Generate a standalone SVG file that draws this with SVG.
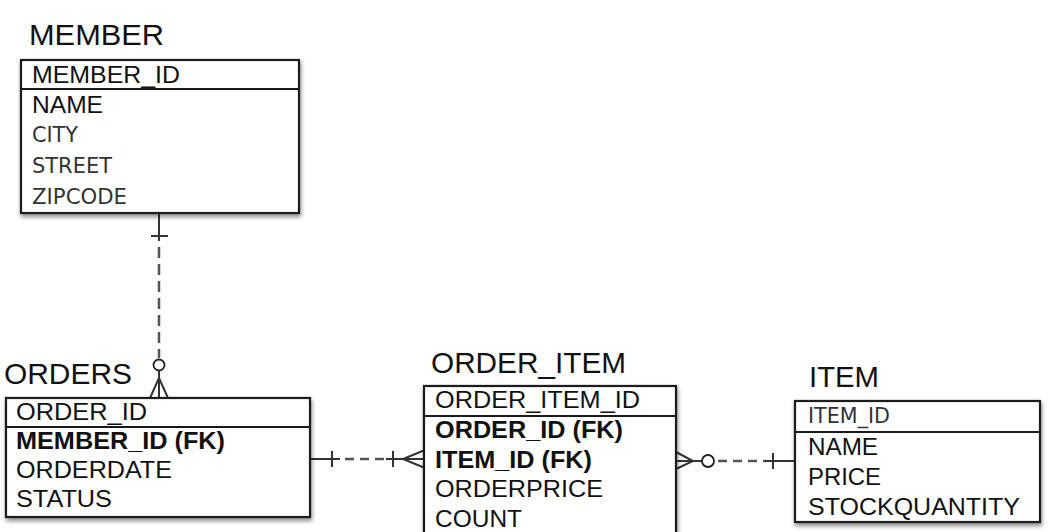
<svg xmlns="http://www.w3.org/2000/svg" width="1049" height="532" viewBox="0 0 1049 532">
<defs>
<filter id="sh" x="-5%" y="-5%" width="115%" height="125%">
<feDropShadow dx="1" dy="3" stdDeviation="2" flood-color="#000" flood-opacity="0.45"/>
</filter>
<style>
.box{fill:#fff;stroke:#1a1a1a;stroke-width:2.2;filter:url(#sh)}
.div{stroke:#1a1a1a;stroke-width:2.2}
.title{font-family:"Liberation Sans",Arial,sans-serif;font-size:29px;fill:#111}
.t{font-family:"Liberation Sans",Arial,sans-serif;font-size:24px;fill:#111}
.b{font-family:"Liberation Sans",Arial,sans-serif;font-size:24px;font-weight:bold;fill:#111}
.g{font-family:"DejaVu Sans",sans-serif;font-size:22px;fill:#333}
.sol{stroke:#333;stroke-width:2;fill:none}
.dash{stroke:#555;stroke-width:2.5;fill:none}
.circ{stroke:#222;stroke-width:1.8;fill:#fff}
</style>
</defs>
<rect width="1049" height="532" fill="#fff"/>

<g id="connectors">
<!-- MEMBER - ORDERS -->
<line class="sol" x1="159" y1="213" x2="159" y2="241"/>
<line class="sol" x1="151" y1="236" x2="168" y2="236"/>
<line class="dash" x1="159" y1="247" x2="159" y2="358" stroke-dasharray="11 6"/>
<circle class="circ" cx="159" cy="365" r="5.5"/>
<line class="sol" x1="159" y1="371" x2="159" y2="398"/>
<path class="sol" d="M150,398 L159,378 L168,398"/>
<!-- ORDERS - ORDER_ITEM -->
<line class="sol" x1="310" y1="459" x2="340" y2="459"/>
<line class="sol" x1="332" y1="451" x2="332" y2="467"/>
<line class="dash" x1="345" y1="459" x2="388" y2="459" stroke-dasharray="9 6"/>
<line class="sol" x1="386" y1="459" x2="425" y2="459"/>
<line class="sol" x1="393" y1="451" x2="393" y2="467"/>
<path class="sol" d="M425,450 L403,459 L425,468"/>
<!-- ORDER_ITEM - ITEM -->
<line class="sol" x1="676" y1="461" x2="702" y2="461"/>
<path class="sol" d="M676,452 L693,461 L676,469"/>
<circle class="circ" cx="708" cy="461" r="6"/>
<line class="dash" x1="718" y1="461" x2="766" y2="461" stroke-dasharray="9 6"/>
<line class="sol" x1="765" y1="461" x2="795" y2="461"/>
<line class="sol" x1="773" y1="453" x2="773" y2="469"/>
</g>

<g id="member">
<text class="title" x="29" y="45" textLength="135" lengthAdjust="spacingAndGlyphs">MEMBER</text>
<rect class="box" x="21" y="60" width="278" height="153"/>
<line class="div" x1="21" y1="89" x2="299" y2="89"/>
<text class="t" x="32" y="83" textLength="148" lengthAdjust="spacingAndGlyphs">MEMBER_ID</text>
<text class="t" x="32" y="113" textLength="71" lengthAdjust="spacingAndGlyphs">NAME</text>
<text class="g" x="32" y="142" textLength="46" lengthAdjust="spacingAndGlyphs">CITY</text>
<text class="g" x="32" y="173" textLength="80" lengthAdjust="spacingAndGlyphs">STREET</text>
<text class="g" x="32" y="204" textLength="95" lengthAdjust="spacingAndGlyphs">ZIPCODE</text>
</g>

<g id="orders">
<text class="title" x="4" y="384" textLength="128" lengthAdjust="spacingAndGlyphs">ORDERS</text>
<rect class="box" x="6" y="398" width="304" height="119"/>
<line class="div" x1="6" y1="427" x2="310" y2="427"/>
<text class="t" x="16" y="420" textLength="131" lengthAdjust="spacingAndGlyphs">ORDER_ID</text>
<text class="b" x="16" y="449" textLength="209" lengthAdjust="spacingAndGlyphs">MEMBER_ID (FK)</text>
<text class="t" x="16" y="478" textLength="156" lengthAdjust="spacingAndGlyphs">ORDERDATE</text>
<text class="t" x="16" y="507" textLength="96" lengthAdjust="spacingAndGlyphs">STATUS</text>
</g>

<g id="order_item">
<text class="title" x="431" y="373" textLength="195" lengthAdjust="spacingAndGlyphs">ORDER_ITEM</text>
<rect class="box" x="424" y="386" width="252" height="160"/>
<line class="div" x1="424" y1="416" x2="676" y2="416"/>
<text class="t" x="435" y="408" textLength="205" lengthAdjust="spacingAndGlyphs">ORDER_ITEM_ID</text>
<text class="b" x="435" y="438" textLength="188" lengthAdjust="spacingAndGlyphs">ORDER_ID (FK)</text>
<text class="b" x="435" y="468" textLength="157" lengthAdjust="spacingAndGlyphs">ITEM_ID (FK)</text>
<text class="t" x="435" y="497" textLength="168" lengthAdjust="spacingAndGlyphs">ORDERPRICE</text>
<text class="t" x="435" y="527" textLength="87" lengthAdjust="spacingAndGlyphs">COUNT</text>
</g>

<g id="item">
<text class="title" x="809" y="387" textLength="70" lengthAdjust="spacingAndGlyphs">ITEM</text>
<rect class="box" x="795" y="401" width="245" height="121"/>
<line class="div" x1="795" y1="432" x2="1040" y2="432"/>
<text class="g" x="808" y="423" textLength="82" lengthAdjust="spacingAndGlyphs">ITEM_ID</text>
<text class="t" x="808" y="455" textLength="70" lengthAdjust="spacingAndGlyphs">NAME</text>
<text class="t" x="808" y="485" textLength="73" lengthAdjust="spacingAndGlyphs">PRICE</text>
<text class="t" x="808" y="515" textLength="212" lengthAdjust="spacingAndGlyphs">STOCKQUANTITY</text>
</g>
</svg>
